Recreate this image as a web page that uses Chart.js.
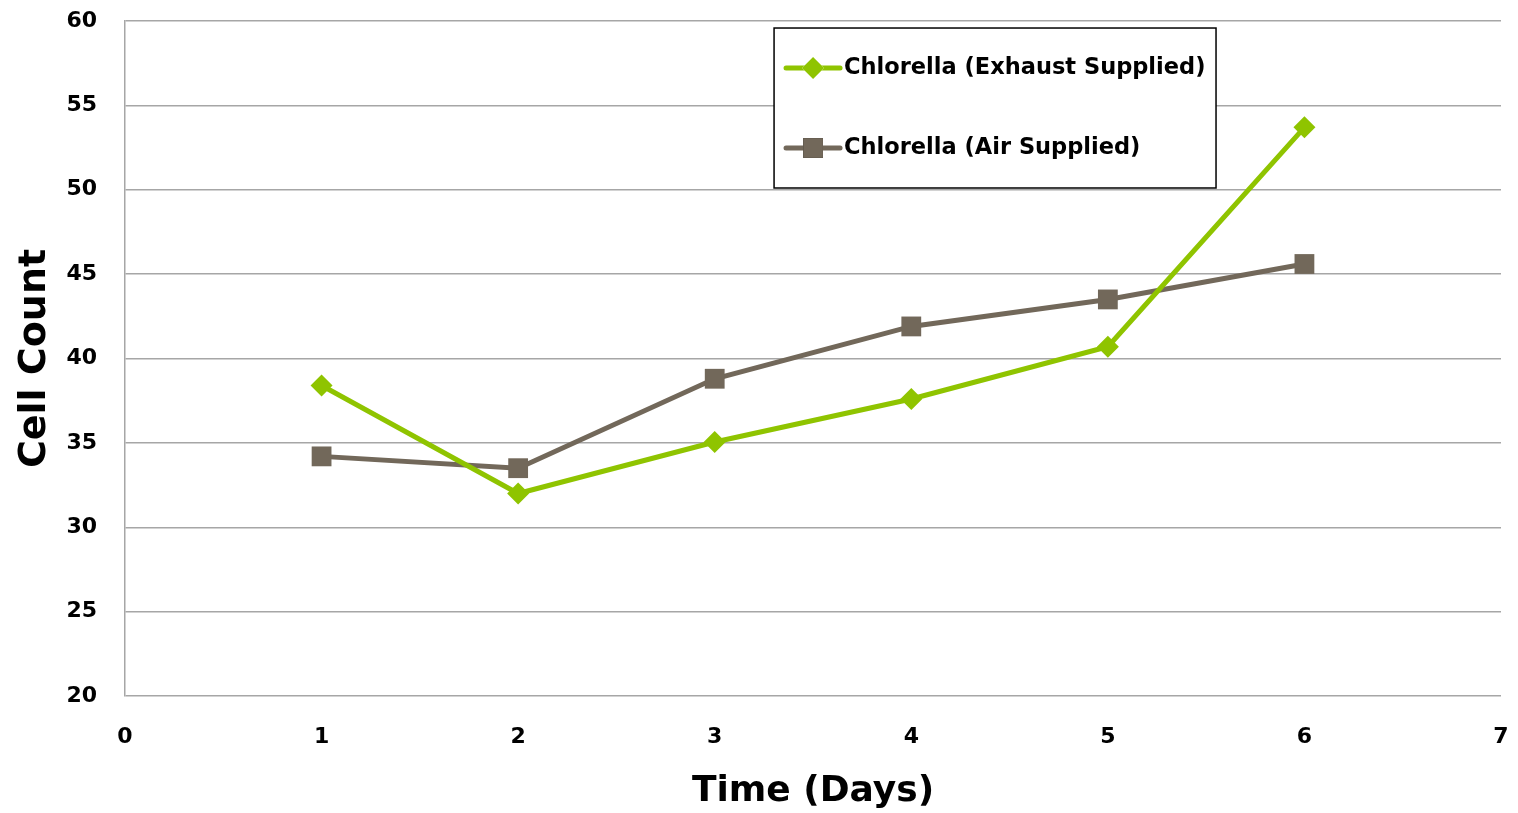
<!DOCTYPE html>
<html>
<head>
<meta charset="utf-8">
<script src="https://cdn.jsdelivr.net/npm/chart.js@4/dist/chart.umd.min.js"></script>
<style>
  html, body { margin: 0; padding: 0; background: #ffffff; }
  canvas { display: block; }
</style>
</head>
<body>
<canvas id="chart" width="1518" height="813"></canvas>
<script>
// Cell counts of Chlorella cultures over six days
const days = [1, 2, 3, 4, 5, 6];
const exhaustSupplied = [38.4, 32.0, 35.05, 37.6, 40.7, 53.7];
const airSupplied = [34.2, 33.5, 38.8, 41.9, 43.5, 45.6];
const seriesNames = ['Chlorella (Exhaust Supplied)', 'Chlorella (Air Supplied)'];

const FONT = "'DejaVu Sans', 'Lato', sans-serif";
const GREEN = '#8fc400';
const BROWN = '#72685a';
const GRID = '#a6a6a6';

const toPoints = (vals) => days.map((d, i) => ({ x: d, y: vals[i] }));

// Boxed legend drawn inside the plot, top right
const boxLegend = {
  id: 'boxLegend',
  afterDraw(chart) {
    const { ctx, chartArea: a } = chart;
    const w = a.right - a.left, h = a.bottom - a.top;
    const x0 = a.left + 0.4717 * w, y0 = a.top + 0.0104 * h;
    const bw = 0.3212 * w, bh = 0.237 * h;
    ctx.save();
    ctx.fillStyle = '#ffffff';
    ctx.fillRect(x0, y0, bw, bh);
    ctx.strokeStyle = '#000000';
    ctx.lineWidth = 1.5;
    ctx.strokeRect(x0, y0, bw, bh);
    chart.data.datasets.forEach((ds, i) => {
      const cy = y0 + bh * (i === 0 ? 0.25 : 0.75);
      const lx1 = x0 + 12, lx2 = x0 + 66;
      ctx.strokeStyle = ds.borderColor;
      ctx.lineWidth = 5;
      ctx.lineCap = 'round';
      ctx.beginPath();
      ctx.moveTo(lx1, cy);
      ctx.lineTo(lx2, cy);
      ctx.stroke();
      Chart.helpers.drawPoint(ctx, {
        pointStyle: ds.pointStyle,
        radius: ds.pointRadius,
        borderWidth: 0
      }, (lx1 + lx2) / 2, cy);
      ctx.fillStyle = ds.pointBackgroundColor;
      ctx.fill();
      ctx.fillStyle = '#000000';
      ctx.font = 'bold 22.5px ' + FONT;
      ctx.textBaseline = 'middle';
      ctx.textAlign = 'left';
      ctx.fillText(ds.label, lx2 + 4, cy);
    });
    ctx.restore();
  }
};

new Chart(document.getElementById('chart'), {
  type: 'line',
  data: {
    datasets: [
      {
        label: seriesNames[0],
        data: toPoints(exhaustSupplied),
        borderColor: GREEN,
        backgroundColor: GREEN,
        pointBackgroundColor: GREEN,
        pointBorderColor: GREEN,
        borderWidth: 5,
        pointStyle: 'rectRot',
        pointRadius: 11,
        pointBorderWidth: 0,
        tension: 0
      },
      {
        label: seriesNames[1],
        data: toPoints(airSupplied),
        borderColor: BROWN,
        backgroundColor: BROWN,
        pointBackgroundColor: BROWN,
        pointBorderColor: BROWN,
        borderWidth: 5,
        pointStyle: 'rect',
        pointRadius: 14,
        pointBorderWidth: 0,
        tension: 0
      }
    ]
  },
  options: {
    responsive: false,
    animation: false,
    layout: { padding: { left: 0, right: 17, top: 21, bottom: 0 } },
    plugins: {
      legend: { display: false },
      tooltip: { enabled: false }
    },
    scales: {
      x: {
        type: 'linear',
        min: 0,
        max: 7,
        ticks: {
          stepSize: 1,
          color: '#000000',
          padding: 20,
          font: { family: FONT, size: 22, weight: 'bold' }
        },
        grid: { display: false },
        border: { display: false },
        title: {
          display: true,
          text: 'Time (Days)',
          color: '#000000',
          font: { family: FONT, size: 36, weight: 'bold' },
          padding: { top: 14, bottom: 0 }
        },
        afterFit(scale) {
          scale.height = 117;
          scale.paddingLeft = 0;
          scale.paddingRight = 0;
        }
      },
      y: {
        min: 20,
        max: 60,
        ticks: {
          stepSize: 5,
          color: '#000000',
          padding: 28,
          font: { family: FONT, size: 22, weight: 'bold' }
        },
        grid: {
          color: GRID,
          lineWidth: 1.5,
          drawTicks: false
        },
        border: { display: true, color: GRID, width: 1.5 },
        title: {
          display: true,
          text: 'Cell Count',
          color: '#000000',
          font: { family: FONT, size: 38, weight: 'bold' },
          padding: { top: 12, bottom: 0 }
        },
        afterFit(scale) {
          scale.width = 125;
          scale.paddingTop = 0;
          scale.paddingBottom = 0;
        }
      }
    }
  },
  plugins: [boxLegend]
});
</script>
</body>
</html>
